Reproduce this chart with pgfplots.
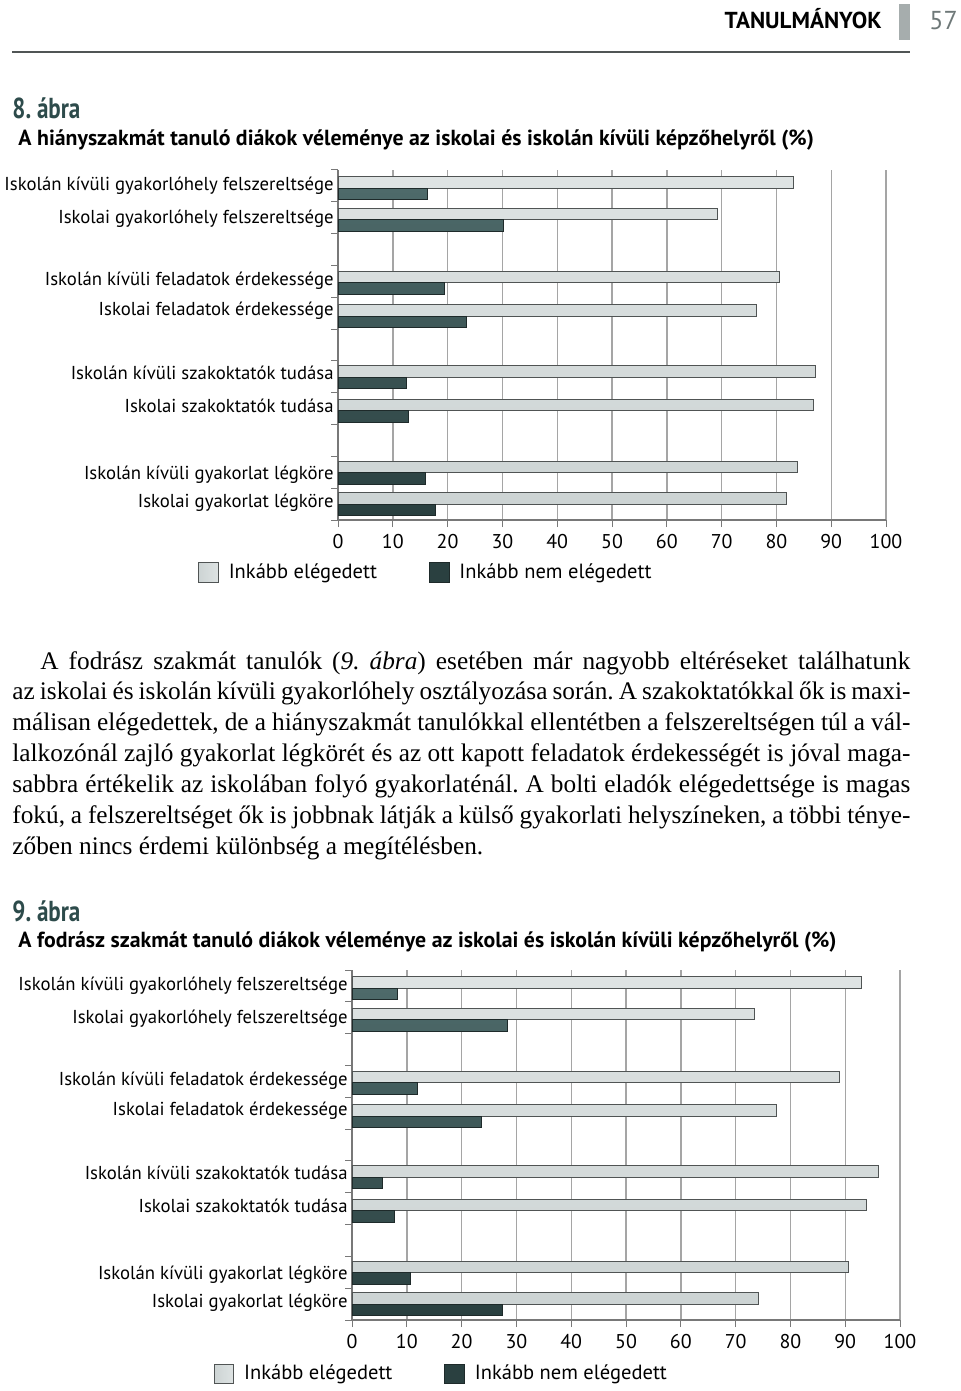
\documentclass[border=0pt]{standalone}
\usepackage{pgfplots}
\pgfplotsset{compat=1.18}
\usepackage{fontspec}
\setmainfont{Liberation Serif}
\newfontfamily\sans{PT Sans}
\newfontfamily\sanscond[FakeStretch=0.8]{PT Sans}
\definecolor{lightA}{RGB}{222,227,227}
\definecolor{lightB}{RGB}{250,251,251}
\definecolor{lightC}{RGB}{205,212,212}
\definecolor{darkA}{RGB}{78,106,106}
\definecolor{darkB}{RGB}{62,92,92}
\definecolor{darkC}{RGB}{42,64,64}
\definecolor{lborder}{RGB}{80,84,84}
\definecolor{dborder}{RGB}{30,42,42}
\definecolor{gridgray}{RGB}{165,165,165}
\definecolor{axgray}{RGB}{120,120,120}
\definecolor{titleteal}{RGB}{45,75,75}
\definecolor{headgray}{RGB}{166,173,173}
\definecolor{numgray}{RGB}{110,120,120}
\definecolor{rulegray}{RGB}{80,85,85}
\pgfplotsset{
  lightbar/.style={draw=lborder, line width=0.5bp, top color=lightA, middle color=lightB, bottom color=lightC, bar shift=2.875bp,
    legend image code/.code={\draw[draw=lborder, line width=0.4bp, left color=lightC, middle color=lightB, right color=lightA] (0bp,-4.9bp) rectangle (9.8bp,4.9bp); \path[draw=none, fill=none, shade=false] (9.8bp,0) -- (13bp,0);}},
  darkbar/.style={draw=dborder, line width=0.5bp, top color=darkA, middle color=darkB, bottom color=darkC, bar shift=-2.875bp,
    legend image code/.code={\draw[draw=dborder, line width=0.4bp, left color=darkC, middle color=darkA, right color=darkC] (0bp,-4.9bp) rectangle (9.8bp,4.9bp); \path[draw=none, fill=none, shade=false] (9.8bp,0) -- (13bp,0);}},
  mychart/.style={
    xbar, scale only axis, width=274bp, height=175bp,
    xmin=0, xmax=100, ymin=-0.5, ymax=10.5,
    axis x line*=bottom, axis y line*=left,
    axis line style={axgray, line width=0.6bp},
    xtick={0,10,...,100}, xmajorgrids, grid style={gridgray, line width=0.7bp},
    tick align=outside, major tick length=3.5bp,
    tick style={axgray, line width=0.5bp},
    bar width=5.75bp,
    ytick={-0.5,0.5,...,10.5}, yticklabels={},
    extra y ticks={0.03,0.91,3.08,4.12,6.07,7.01,8.96,10},
    extra y tick labels={Iskolai gyakorlat légköre, Iskolán kívüli gyakorlat légköre, Iskolai szakoktatók tudása, Iskolán kívüli szakoktatók tudása, Iskolai feladatok érdekessége, Iskolán kívüli feladatok érdekessége, Iskolai gyakorlóhely felszereltsége, Iskolán kívüli gyakorlóhely felszereltsége},
    extra y tick style={major tick length=0pt, yticklabel style={font=\sans\fontsize{9.4}{10}\selectfont, text=black, inner sep=2bp}},
    xticklabel style={font=\sans\fontsize{10}{12}\selectfont, text=black},
    /pgf/number format/assume math mode=true,
    legend columns=2,
    legend style={draw=none, fill=none, inner sep=0pt, font=\sans\fontsize{10.3}{12}\selectfont,
      /tikz/every even column/.append style={column sep=24bp}},
    legend cell align=left,
  }
}
\begin{document}
\frenchspacing
\begin{tikzpicture}[x=0.5bp, y=-0.5bp]
\useasboundingbox (0,0) rectangle (960,1391);
% header
\node[anchor=base east, inner sep=0, font=\sans\bfseries\fontsize{11.6}{12}\selectfont] at (882,29) {TANULMÁNYOK};
\fill[headgray] (899,4) rectangle (910,40);
\node[anchor=base west, inner sep=0, font=\sans\fontsize{13}{14}\selectfont, text=numgray] at (929,30) {57};
\draw[line width=1bp, rulegray] (12,52) -- (910,52);
% figure 8 titles
\node[anchor=base west, inner sep=0, text=titleteal, font=\sanscond\bfseries\fontsize{14.5}{15}\selectfont] at (12,119) {8. ábra};
\node[anchor=base west, inner sep=0, font=\sans\bfseries\fontsize{10.95}{12}\selectfont] at (18,145) {A hiányszakmát tanuló diákok véleménye az iskolai és iskolán kívüli képzőhelyről (\%)};
\coordinate (A1) at (338,520);
\begin{axis}[mychart, at={(A1)}, anchor=south west,
  legend style={at={(rel axis cs:-0.2555,-0.149)}, anchor=west}]
\addplot[lightbar] coordinates {(83.1,9.93) (69.3,8.93) (80.5,6.95) (76.3,5.91) (87.2,3.99) (86.8,2.93) (83.8,0.98) (81.9,-0.01)};
\addplot[darkbar] coordinates {(16.4,9.93) (30.2,8.93) (19.4,6.95) (23.4,5.91) (12.5,3.99) (12.9,2.93) (16.0,0.98) (17.8,-0.01)};
\legend{Inkább elégedett, Inkább nem elégedett}
\end{axis}
% paragraph
\begin{scope}[every node/.style={anchor=base west, inner sep=0, font=\fontsize{12.7}{14}\selectfont}]
\node at (40,669) {\hbox to 435bp{A fodrász szakmát tanulók (\textit{9. ábra}) esetében már nagyobb eltéréseket találhatunk}};
\node at (12,699) {\hbox to 449bp{az iskolai és iskolán kívüli gyakorlóhely osztályozása során. A szakoktatókkal ők is maxi-}};
\node at (12,730) {\hbox to 449bp{málisan elégedettek, de a hiányszakmát tanulókkal ellentétben a felszereltségen túl a vál-}};
\node at (12,761) {\hbox to 449bp{lalkozónál zajló gyakorlat légkörét és az ott kapott feladatok érdekességét is jóval maga-}};
\node at (12,792) {\hbox to 449bp{sabbra értékelik az iskolában folyó gyakorlaténál. A bolti eladók elégedettsége is magas}};
\node at (12,823) {\hbox to 449bp{fokú, a felszereltséget ők is jobbnak látják a külső gyakorlati helyszíneken, a többi ténye-}};
\node at (12,854) {zőben nincs érdemi különbség a megítélésben.};
\end{scope}
% figure 9 titles
\node[anchor=base west, inner sep=0, text=titleteal, font=\sanscond\bfseries\fontsize{14.5}{15}\selectfont] at (12,921) {9. ábra};
\node[anchor=base west, inner sep=0, font=\sans\bfseries\fontsize{10.95}{12}\selectfont] at (18,947) {A fodrász szakmát tanuló diákok véleménye az iskolai és iskolán kívüli képzőhelyről (\%)};
\coordinate (A2) at (352,1320);
\begin{axis}[mychart, at={(A2)}, anchor=south west,
  legend style={at={(rel axis cs:-0.253,-0.154)}, anchor=west}]
\addplot[lightbar] coordinates {(93.0,9.93) (73.5,8.93) (88.9,6.95) (77.5,5.91) (96.1,3.99) (93.9,2.93) (90.6,0.98) (74.2,-0.01)};
\addplot[darkbar] coordinates {(8.3,9.93) (28.3,8.93) (12.0,6.95) (23.7,5.91) (5.5,3.99) (7.8,2.93) (10.6,0.98) (27.4,-0.01)};
\legend{Inkább elégedett, Inkább nem elégedett}
\end{axis}
\end{tikzpicture}
\end{document}
